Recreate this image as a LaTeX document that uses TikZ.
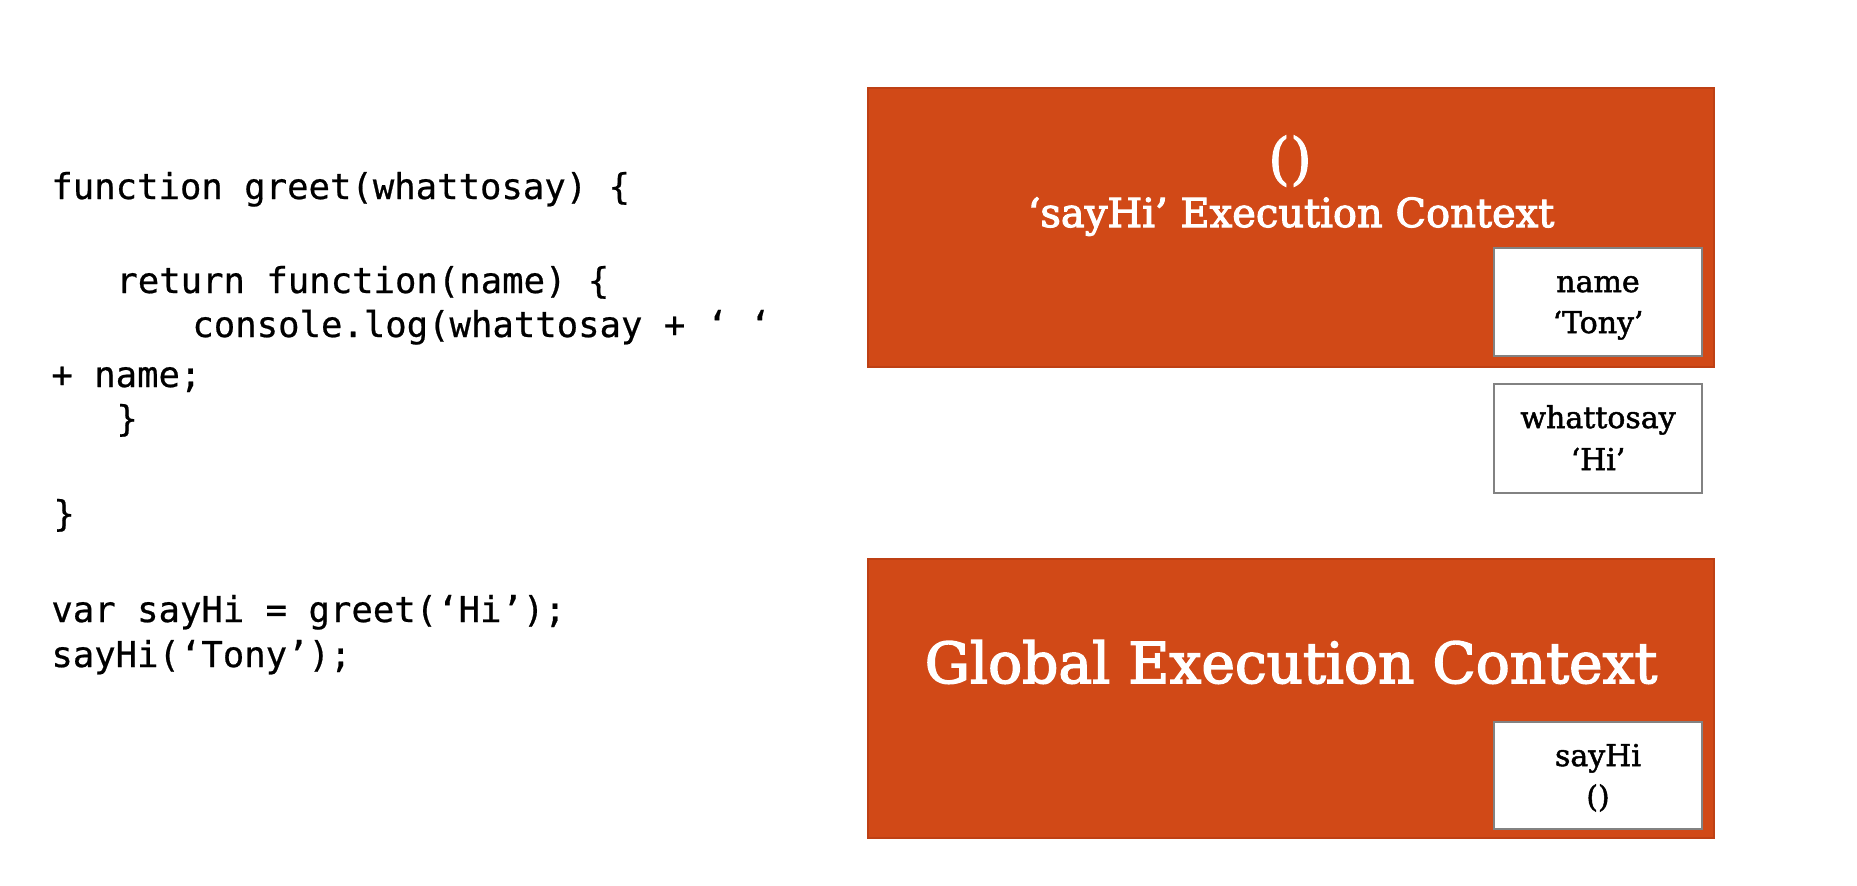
\documentclass[tikz,border=0pt]{standalone}
\usepackage{fontspec}
\setmainfont{DejaVu Serif}
\newfontfamily\codefont[FakeBold=0.6]{DejaVu Sans Mono}
\newfontfamily\boxfont[FakeBold=1.6]{DejaVu Serif}
\newfontfamily\ctxfont[FakeBold=2.6]{DejaVu Serif}
\definecolor{ctxorange}{RGB}{209,73,23}
\definecolor{ctxedge}{RGB}{190,64,20}
\definecolor{varedge}{RGB}{130,130,130}
\begin{document}
\begin{tikzpicture}[x=0.5pt,y=-0.5pt,
  ctxbox/.style={draw=ctxedge,line width=0.6pt,fill=ctxorange,inner sep=0pt,minimum width=423pt},
  varbox/.style={draw=varedge,line width=0.7pt,fill=white,inner sep=0pt,minimum width=104pt},
  code/.style={anchor=base west,inner sep=0pt,font=\codefont\fontsize{17.8}{20}\selectfont},
  vartext/.style={anchor=base,inner sep=0pt,font=\boxfont\fontsize{15}{18}\selectfont},
  ctxsub/.style={anchor=base,inner sep=0pt,text=white,font=\ctxfont\fontsize{20}{24}\selectfont},
  ctxtitle/.style={anchor=base,inner sep=0pt,text=white,font=\ctxfont\fontsize{28.3}{34}\selectfont}]
\path[fill=white,use as bounding box] (0,0) rectangle (1857,885);
% code
\node[code] (c1) at (51,199) {function greet(whattosay) \{};
\node[code] (c2) at (116,293) {return function(name) \{};
\node[code] (c3) at (192,337) {console.log(whattosay + ‘ ‘};
\node[code] (c4) at (51,387) {+ name;};
\node[code] (c5) at (116,431) {\}};
\node[code] (c6) at (53,526) {\}};
\node[code] (c7) at (51,622) {var sayHi = greet(‘Hi’);};
\node[code] (c8) at (51,667) {sayHi(‘Tony’);};
% sayHi execution context
\node[ctxbox,minimum height=139.5pt] (sayhictx) at (1291,227.5) {};
\node[anchor=base,inner sep=0pt,text=white,font=\boxfont\fontsize{28}{32}\selectfont] (parens) at (1290,178) {()};
\node[ctxsub] (sayhititle) at (1291,227) {‘sayHi’ Execution Context};
\node[varbox,minimum height=54pt] (namebox) at (1598,302) {};
\node[vartext] (namel1) at (1598,292) {name};
\node[vartext] (namel2) at (1598,333) {‘Tony’};
% whattosay
\node[varbox,minimum height=54.5pt] (whatbox) at (1598,438.5) {};
\node[vartext] (whatl1) at (1598,428) {whattosay};
\node[vartext] (whatl2) at (1598,470) {‘Hi’};
% global execution context
\node[ctxbox,minimum height=139.5pt] (globalctx) at (1291,698.5) {};
\node[ctxtitle] (globaltitle) at (1291,683) {Global Execution Context};
\node[varbox,minimum height=53.5pt] (sayhibox) at (1598,775.5) {};
\node[vartext] (sayhil1) at (1598,766) {sayHi};
\node[vartext] (sayhil2) at (1598,807) {()};
\end{tikzpicture}
\end{document}
